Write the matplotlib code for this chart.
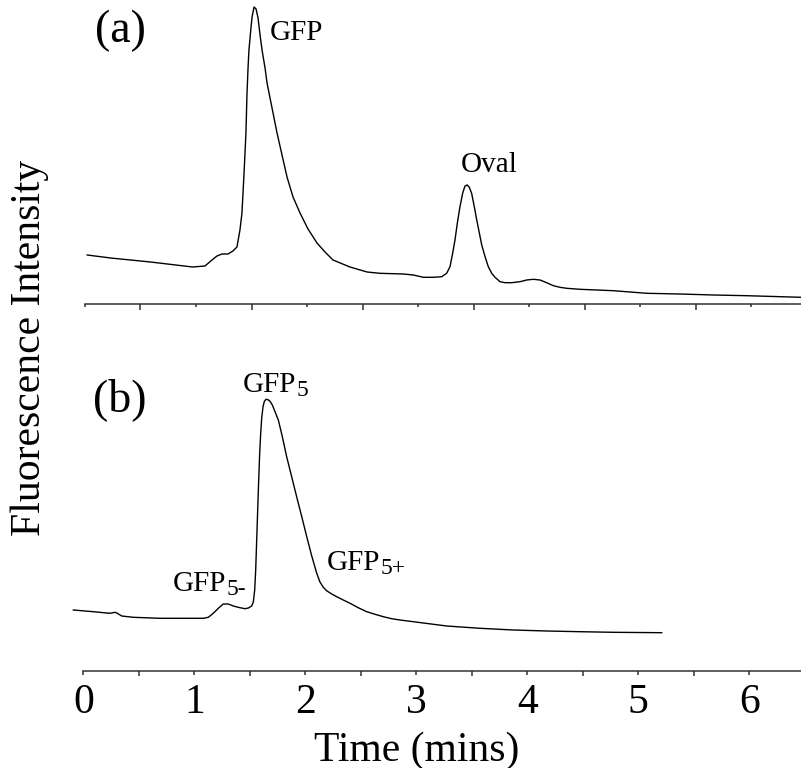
import numpy as np
import matplotlib
matplotlib.use("Agg")
import matplotlib.pyplot as plt

plt.rcParams['font.family'] = ['Liberation Serif', 'DejaVu Serif']

# ---- data (time in min, intensity in arbitrary units) ----
time_a = [0.02, 0.23, 0.59, 0.97, 1.081, 1.144, 1.189, 1.234, 1.288, 1.333, 1.369,
          1.396, 1.414, 1.432, 1.450, 1.459, 1.468, 1.477, 1.495, 1.505, 1.523,
          1.541, 1.559, 1.577, 1.595, 1.622, 1.640, 1.685, 1.730, 1.775, 1.820,
          1.874, 1.937, 2.009, 2.090, 2.162, 2.234, 2.387, 2.541, 2.658, 2.868,
          2.958, 3.048, 3.138, 3.213, 3.258, 3.288, 3.312, 3.333, 3.354, 3.378,
          3.402, 3.423, 3.444, 3.462, 3.483, 3.507, 3.529, 3.553, 3.574, 3.604,
          3.633, 3.664, 3.694, 3.739, 3.784, 3.844, 3.919, 3.979, 4.039, 4.099,
          4.159, 4.219, 4.279, 4.339, 4.459, 4.760, 5.060, 5.360, 5.660, 5.961, 6.45]
signal_a = [49, 46, 42, 37, 38, 44, 48, 50, 50, 53, 57,
            74, 91, 129, 171, 209, 234, 254, 276, 287, 297,
            295, 286, 269, 254, 236, 221, 196, 171, 149, 127,
            107, 91, 75, 61, 52, 44, 37, 32, 30.7, 30,
            29, 26.7, 26.7, 27.3, 30.7, 37.3, 50.7, 64, 80.7, 97.3,
            110.7, 118, 119, 116.7, 110.7, 97.3, 84, 70.7, 59, 47.3,
            37.3, 30.7, 26.7, 22.3, 21.3, 21.3, 22.3, 24, 24.7, 24,
            21.3, 18.3, 16.7, 15.7, 14.7, 13.3, 10.7, 10, 9, 8.3, 6.7]

time_b = [-0.090, 0.090, 0.240, 0.286, 0.306, 0.346, 0.450, 0.691, 1.081, 1.126,
          1.171, 1.216, 1.261, 1.306, 1.351, 1.411, 1.457, 1.487, 1.517, 1.532,
          1.544, 1.553, 1.562, 1.571, 1.580, 1.589, 1.598, 1.607, 1.619, 1.631,
          1.646, 1.664, 1.682, 1.703, 1.727, 1.757, 1.793, 1.832, 1.877, 1.922,
          1.968, 2.013, 2.058, 2.103, 2.132, 2.162, 2.192, 2.238, 2.283, 2.342,
          2.403, 2.477, 2.553, 2.628, 2.703, 2.778, 2.853, 2.973, 3.274, 3.574,
          3.874, 4.175, 4.475, 4.775, 5.211]
signal_b = [61, 59.3, 57.7, 58.7, 57.7, 55, 53.7, 52.7, 52.7, 53.7,
            57.7, 62.7, 67, 67, 65, 63.3, 62.3, 63, 65, 69.3,
            81, 101, 131, 161, 191, 217.7, 237.7, 252.7, 264.3, 269.7,
            271.7, 271.3, 269.7, 266, 259.3, 251, 234.3, 214.3, 194.3, 174.3,
            154.3, 134.3, 115, 97.7, 89, 83.7, 80.3, 77, 74.3, 71,
            67.7, 63.3, 59.3, 56.7, 54.3, 52.3, 51, 49.3, 45, 42.7,
            41, 40, 39.3, 38.7, 38.3]

tick_labels = ['0', '1', '2', '3', '4', '5', '6']

W, H = 801, 768
fig = plt.figure(figsize=(W / 100, H / 100), dpi=100)

ax_a = fig.add_axes([70 / W, (H - 304) / H, 731 / W, 304 / H])
ax_b = fig.add_axes([70 / W, (H - 671) / H, 731 / W, 304 / H])

ax_a.set_xlim(-0.135, 6.45)
ax_b.set_xlim(-0.12, 6.466)

ax_a.plot(time_a, signal_a, color='black', lw=1.0)
ax_b.plot(time_b, signal_b, color='black', lw=1.0)

spine_col = '#333333'
for ax in (ax_a, ax_b):
    ax.set_ylim(0, 304)
    for s in ('top', 'right', 'left'):
        ax.spines[s].set_visible(False)
    ax.spines['bottom'].set_color(spine_col)
    ax.spines['bottom'].set_linewidth(1.1)
    ax.spines['bottom'].set_bounds(0, ax.get_xlim()[1])
    ax.set_yticks([])
    ax.set_xticks(range(7))
    ax.set_xticks(np.arange(0.5, 6.5, 1.0), minor=True)
    ax.tick_params(axis='x', which='both', direction='out', color=spine_col, width=1.1)

ax_a.tick_params(axis='x', which='major', length=2.4, labelbottom=False)
ax_a.tick_params(axis='x', which='minor', length=4.0)
ax_b.tick_params(axis='x', which='major', length=3.0, pad=6, labelsize=30)
ax_b.tick_params(axis='x', which='minor', length=3.6)
ax_b.set_xticklabels(tick_labels)

# panel letters
ax_a.text(0.32, 273, '(a)', fontsize=33, ha='center', va='center')
ax_b.text(0.33, 271, '(b)', fontsize=33, ha='center', va='center')

# peak labels
ax_a.text(1.905, 264, 'GFP', fontsize=21, ha='center', va='baseline')
ax_a.text(3.64, 132, 'Oval', fontsize=21, ha='center', va='baseline')


def peak_label(ax, x, y, sub):
    t = ax.text(x, y, 'GFP', fontsize=21, ha='left', va='baseline')
    ax.annotate(sub, xy=(1, 0), xycoords=t, xytext=(0.3, -2.0),
                textcoords='offset points', fontsize=17, ha='left', va='bottom')


peak_label(ax_b, 1.44, 279, '5')
peak_label(ax_b, 0.81, 80, '5-')
peak_label(ax_b, 2.19, 101, '5+')

fig.text(30 / W, (H - 348) / H, 'Fluorescence Intensity', fontsize=30,
         rotation=90, ha='center', va='center')
fig.text(417 / W, -0.002, 'Time (mins)', fontsize=30, ha='center', va='bottom')

fig.savefig('out.png', dpi=100)
